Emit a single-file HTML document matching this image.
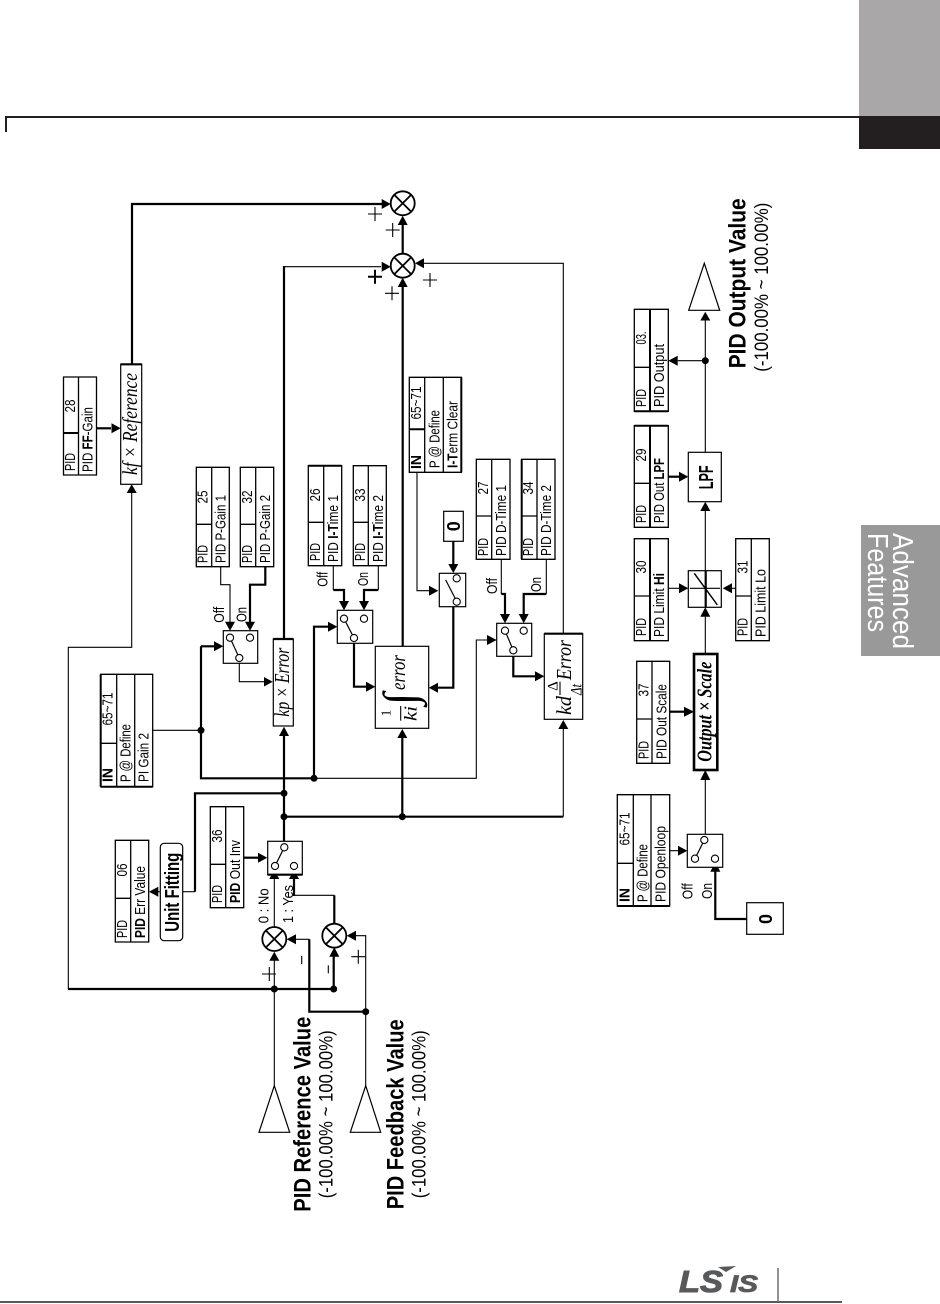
<!DOCTYPE html>
<html><head><meta charset="utf-8"><style>
html,body{margin:0;padding:0;background:#fff}
svg{display:block}
.n{fill:none;stroke:#000;stroke-width:1.1}
.k{fill:none;stroke:#000;stroke-width:2.2}
.b{fill:#fff;stroke:#000;stroke-width:1.2}
.tb{fill:none;stroke:#000;stroke-width:1.3}
.c{fill:#fff;stroke:#000;stroke-width:1.1}
.s{fill:#fff;stroke:#000;stroke-width:1.8}
text{font-family:"Liberation Sans",sans-serif;fill:#000}
.t{font-size:15px}
.m{text-anchor:middle}
.f{font-family:"Liberation Serif",serif;font-style:italic;font-size:21px}
.h{font-size:24px;font-weight:bold}
.r{font-size:19px}
</style></head><body>
<svg width="940" height="1304" viewBox="0 0 940 1304" xmlns="http://www.w3.org/2000/svg">
<!-- page furniture -->
<rect x="859" y="0" width="81" height="116" fill="#a9a7a7"/>
<rect x="859" y="116" width="81" height="33" fill="#231f20"/>
<path d="M6 132V117H859" fill="none" stroke="#231f20" stroke-width="2"/>
<rect x="861" y="525" width="79" height="131" fill="#999"/>
<text transform="translate(893,533) rotate(90)" font-size="29" style="fill:#fff" textLength="116" lengthAdjust="spacingAndGlyphs">Advanced</text>
<text transform="translate(868,533) rotate(90)" font-size="29" style="fill:#fff" textLength="99" lengthAdjust="spacingAndGlyphs">Features</text>
<path d="M0 1302H842" stroke="#58595b" stroke-width="2"/>
<path d="M778 1268V1302" stroke="#6d6e70" stroke-width="1.5"/>
<text x="679" y="1292" font-size="31" font-weight="bold" font-style="italic" style="fill:#58595b;stroke:#58595b;stroke-width:1" textLength="44" lengthAdjust="spacingAndGlyphs">LS</text>
<text x="730" y="1292" font-size="24" font-weight="bold" font-style="italic" style="fill:#58595b;stroke:#58595b;stroke-width:.8" textLength="28" lengthAdjust="spacingAndGlyphs">IS</text>
<polygon points="718,1267 736,1266 726,1272" fill="#58595b"/>

<!-- thin wires -->
<g class="n">
<path d="M68.3 989V647.3H131.7V493"/>
<path d="M274.3 1085.7V960"/>
<path d="M365.7 1085.7V935.7H356"/>
<path d="M309.3 939.3H296"/>
<path d="M274.3 927V879"/>
<path d="M334.3 895.3H294"/>
<path d="M284 266.7H381"/>
<path d="M152.7 730.3H201"/>
<path d="M314 778.3H476.3V640H487"/>
<path d="M220.7 566.7V584.7H230V622"/>
<path d="M239.3 662V681.7H264"/>
<path d="M333.3 565.7V590"/>
<path d="M378.3 565.7V590"/>
<path d="M417 472.3V590.7H429"/>
<path d="M501.3 559.3V594"/>
<path d="M546.3 559.3V594"/>
<path d="M563.3 633.7V263.3H424"/>
<path d="M563.3 816.7V729"/>
<path d="M182.7 891.7H195"/>
<path d="M160 891.7H158"/>
<path d="M705.3 320V452.3"/>
<path d="M705.3 360.7H677.7"/>
<path d="M705.3 511V570.7"/>
<path d="M705.3 616.7V654"/>
<path d="M705.3 780V834"/>
<path d="M669.7 850.7H678"/>
<path d="M668.3 588.3H679"/>
<path d="M732 588.3H735.7"/>
</g>
<!-- thick wires -->
<g class="k">
<path d="M132 364V204H382"/>
<path d="M284 638V266"/>
<path d="M284 841V736"/>
<path d="M68 989H333.7V956"/>
<path d="M309.3 939.3V1011.7H365.7"/>
<path d="M334.3 923.7V895.3"/>
<path d="M294 896V879"/>
<path d="M284 793.3H195V891.7"/>
<path d="M284 816.7H563.3"/>
<path d="M402.3 816.7V738"/>
<path d="M201 646.3H214"/>
<path d="M201 646.3V778.3H314"/>
<path d="M314 778.3V626.7H328"/>
<path d="M265.3 566.7V584.7H250V622"/>
<path d="M333.3 590H344V601"/>
<path d="M378.3 590H364V601"/>
<path d="M354 642V686.7H366"/>
<path d="M402.7 646V287"/>
<path d="M402.7 253V225"/>
<path d="M438 687.7H453.3V606"/>
<path d="M453.3 541V564"/>
<path d="M501.3 594H505V614"/>
<path d="M546.3 594H523.7V614"/>
<path d="M513.3 654V676.3H535"/>
<path d="M96.7 428.3H111"/>
<path d="M243.7 857.7H258"/>
<path d="M668.3 476.7H679"/>
<path d="M669.7 711.7H684"/>
<path d="M715.3 871V919H746.7"/>
</g>
<!-- arrowheads -->
<g fill="#000">
<polygon points="390.7,204 381.7,199 381.7,209"/>
<polygon points="390.7,266.7 381.7,261.7 381.7,271.7"/>
<polygon points="415,263.3 424,258.3 424,268.3"/>
<polygon points="402.7,215.7 397.7,225 407.7,225"/>
<polygon points="402.7,277.7 397.7,287 407.7,287"/>
<polygon points="131.7,484.3 126.7,493 136.7,493"/>
<polygon points="120.7,428.3 111.5,423.3 111.5,433.3"/>
<polygon points="274.3,951.7 269.3,960.7 279.3,960.7"/>
<polygon points="334.3,947.3 329.3,956.7 339.3,956.7"/>
<polygon points="286.7,939.3 296,934.3 296,944.3"/>
<polygon points="346.7,935.7 356,930.7 356,940.7"/>
<polygon points="274.3,870 269.3,879 279.3,879"/>
<polygon points="294,870 289,879 299,879"/>
<polygon points="267.3,857.7 258,852.7 258,862.7"/>
<polygon points="149,891.7 158.3,886.7 158.3,896.7"/>
<polygon points="284,726.7 279,736 289,736"/>
<polygon points="402.3,729 397.3,738 407.3,738"/>
<polygon points="563.3,720 558.3,729 568.3,729"/>
<polygon points="223.3,646.3 214,641.3 214,651.3"/>
<polygon points="337.3,626.7 328,621.7 328,631.7"/>
<polygon points="496.7,640 487,635 487,645"/>
<polygon points="230,630.7 225,621.7 235,621.7"/>
<polygon points="250,630.7 245,621.7 255,621.7"/>
<polygon points="344,610.3 339,601 349,601"/>
<polygon points="364,610.3 359,601 369,601"/>
<polygon points="505,623.3 500,614 510,614"/>
<polygon points="523.7,623.3 518.7,614 528.7,614"/>
<polygon points="272.7,681.7 264,677 264,686.5"/>
<polygon points="375.3,686.7 366,681.7 366,691.7"/>
<polygon points="428.7,687.7 438,682.7 438,692.7"/>
<polygon points="544.3,676.3 535,671.3 535,681.3"/>
<polygon points="438.3,590.7 429,585.7 429,595.7"/>
<polygon points="453.3,573 448.3,564 458.3,564"/>
<polygon points="705.3,311.7 700.3,320.5 710.3,320.5"/>
<polygon points="668.3,360.7 677.7,355.7 677.7,365.7"/>
<polygon points="688.3,476.7 679,471.7 679,481.7"/>
<polygon points="705.3,501.7 700.3,511 710.3,511"/>
<polygon points="688.3,588.3 679,583.3 679,593.3"/>
<polygon points="722.7,588.3 732,583.3 732,593.3"/>
<polygon points="705.3,607.3 700.3,616.7 710.3,616.7"/>
<polygon points="694,711.7 684,706.7 684,716.7"/>
<polygon points="705.3,770 700.3,780 710.3,780"/>
<polygon points="687.3,850.7 678,845.7 678,855.7"/>
<polygon points="715.3,861.7 710.3,871.7 720.3,871.7"/>
<circle cx="274.3" cy="989" r="3.5"/><circle cx="333.7" cy="989" r="3.5"/><circle cx="365.7" cy="1011.7" r="3.5"/>
<circle cx="284" cy="816.7" r="3.5"/><circle cx="284" cy="793.3" r="3.5"/><circle cx="402.3" cy="816.7" r="3.5"/>
<circle cx="201" cy="730.3" r="3.5"/><circle cx="314" cy="778.3" r="3.5"/><circle cx="705.3" cy="360.7" r="3.5"/>
</g>
<!-- summing junctions -->
<g class="s">
<circle cx="402.7" cy="203.3" r="12"/><path d="M394.2 194.8L411.2 211.8M411.2 194.8L394.2 211.8"/>
<circle cx="402.7" cy="265.7" r="12"/><path d="M394.2 257.2L411.2 274.2M411.2 257.2L394.2 274.2"/>
<circle cx="274.3" cy="939" r="12"/><path d="M265.8 930.5L282.8 947.5M282.8 930.5L265.8 947.5"/>
<circle cx="334.3" cy="935.7" r="12"/><path d="M325.8 927.2L342.8 944.2M342.8 927.2L325.8 944.2"/>
</g>
<!-- plus / minus -->
<g class="n">
<path d="M368 214H382M375 207V221"/>
<path d="M385.7 230H399.7M392.7 223V237"/>
<path d="M385 293.3H399M392 286.3V300.3"/>
<path d="M423 280H437M430 273V287"/>
<path d="M262 974H276M269.3 967V981"/>
<path d="M351.3 956.7H365.3M358.3 949.7V963.7"/>
<path d="M301.7 956V964"/>
<path d="M328.3 965.3V973.3"/>
</g>
<path d="M368 276.7H382M375 269.7V283.7" fill="none" stroke="#000" stroke-width="2"/>
<!-- triangles -->
<g class="b">
<polygon points="274.3,1085.7 259,1132.3 289.7,1132.3"/>
<polygon points="365.7,1085.7 350.3,1132.3 380.7,1132.3"/>
<polygon points="704.3,263.3 688.7,310.3 719.7,310.3"/>
</g>
<!-- blocks -->
<g class="b">
<rect x="120.7" y="364.3" width="21" height="120"/>
<rect x="273.3" y="639" width="20" height="87"/>
<rect x="375.3" y="646.3" width="53.4" height="82"/>
<rect x="544.3" y="633.7" width="38.4" height="85.6"/>
<rect x="688.3" y="452.3" width="33" height="49.4"/>
<rect x="688.3" y="570.7" width="33" height="36.6"/>
<rect x="443.7" y="511.3" width="19.6" height="30"/>
<rect x="746.7" y="902.7" width="36.6" height="31.6"/>
<rect x="160.3" y="843.3" width="22.4" height="97.4" rx="4"/>
<rect x="694" y="654" width="23.3" height="116" style="stroke-width:2.6"/>
<rect x="223.3" y="630.7" width="34.4" height="32.6"/>
<rect x="337.3" y="610.3" width="35.4" height="33"/>
<rect x="439.3" y="573.3" width="26.4" height="33.4"/>
<rect x="496.7" y="623.3" width="35" height="33"/>
<rect x="267.7" y="841.3" width="34.6" height="33.4"/>
<rect x="687.3" y="834.3" width="35.4" height="33"/>
</g>
<!-- thick block edges -->
<path d="M120.7 364.3H141.7M273.3 639H293.3M544.3 633.7H582.7M267.7 874.7H302.3" stroke="#000" stroke-width="2.2"/>
<!-- limiter glyph -->
<path d="M690 588.3H720" class="n"/>
<path d="M705.7 571V607" class="k"/>
<path d="M694.3 573.3L696.7 576.7L715 601.7L717.3 605" class="n" style="stroke-width:1.4"/>
<!-- switch contacts -->
<g class="n" style="stroke-width:1.2">
<path d="M230 637.7L239.3 658"/><path d="M344 618.7L354 638"/>
<path d="M445.7 580L456 600"/><path d="M505 630.7L513.3 650.3"/>
<path d="M275 866L284.3 847.3"/><path d="M695 858.7L704.3 840"/>
</g>
<g class="c">
<circle cx="230" cy="637.7" r="3.6"/><circle cx="250" cy="637.7" r="3.6"/><circle cx="239.3" cy="658" r="3.6"/>
<circle cx="344" cy="618.7" r="3.6"/><circle cx="364" cy="618.7" r="3.6"/><circle cx="354" cy="638" r="3.6"/>
<circle cx="456.7" cy="578.3" r="3.6"/><circle cx="456.7" cy="601.7" r="3.6"/>
<circle cx="505" cy="630.7" r="3.6"/><circle cx="523.7" cy="630.7" r="3.6"/><circle cx="513.3" cy="650.3" r="3.6"/>
<circle cx="275" cy="866" r="3.6"/><circle cx="294" cy="866" r="3.6"/><circle cx="284.3" cy="847.3" r="3.6"/>
<circle cx="695" cy="858.7" r="3.6"/><circle cx="715" cy="858.7" r="3.6"/><circle cx="704.3" cy="840" r="3.6"/>
</g>
<!-- parameter tables -->
<g class="tb">
<path d="M63.5 377H96.5V475H63.5ZM78.5 377V475M63.5 433H78.5"/>
<path d="M196.3 467.3H229.3V566.7H196.3ZM211.7 467.3V566.7M196.3 524.3H211.7"/>
<path d="M240.3 467.3H273.7V566.7H240.3ZM255.7 467.3V566.7M240.3 524.3H255.7"/>
<path d="M308.3 465.7H341.7V565.7H308.3ZM323.7 465.7V565.7M308.3 522.3H323.7"/>
<path d="M353.3 465.7H386.3V565.7H353.3ZM368.3 465.7V565.7M353.3 522.3H368.3"/>
<path d="M409.3 377.3H461.3V472.3H409.3ZM424.7 377.3V472.3M443.3 377.3V472.3M409.3 429.3H424.7"/>
<path d="M476.3 459.3H510V559.3H476.3ZM491.7 459.3V559.3M476.3 516H491.7"/>
<path d="M521.7 459.3H555V559.3H521.7ZM537 459.3V559.3M521.7 516H537"/>
<path d="M100.7 674.3H152.7V786.7H100.7ZM116.7 674.3V786.7M134.7 674.3V786.7M100.7 743.3H116.7"/>
<path d="M115.3 840.3H148.7V942H115.3ZM130.7 840.3V942M115.3 898.3H130.7"/>
<path d="M210.3 806.7H243.7V907.7H210.3ZM225.7 806.7V907.7M210.3 864.3H225.7"/>
<path d="M634.3 309.3H668.3V411.3H634.3ZM650 309.3V411.3M634.3 367.3H650"/>
<path d="M634.3 425.7H668.3V527.3H634.3ZM650 425.7V527.3M634.3 483.3H650"/>
<path d="M634.3 538.7H668.3V640.7H634.3ZM650 538.7V640.7M634.3 596H650"/>
<path d="M735.7 538.7H769.3V640.7H735.7ZM751.3 538.7V640.7M735.7 596H751.3"/>
<path d="M636.7 661.3H669.7V763.3H636.7ZM652 661.3V763.3M636.7 719H652"/>
<path d="M617.3 794.7H669.7V906H617.3ZM633.3 794.7V906M651 794.7V906M617.3 863.3H633.3"/>
</g>
<!-- heavier table edges -->
<path d="M63.5 433H78.5M308.3 465.7H341.7M409.3 429.3H424.7M461.3 377.3V472.3M100.7 674.3V786.7M100.7 786.7H152.7M617.3 906H669.7M634.3 425.7H668.3M634.3 411.3H668.3M521.7 459.3V559.3M650 309.3V411.3M650 425.7V527.3M650 538.7V640.7" stroke="#000" stroke-width="2" fill="none"/>
<!-- table text -->
<g>
<text class="t" transform="translate(75,471) rotate(-90)" textLength="18" lengthAdjust="spacingAndGlyphs">PID</text>
<text class="t m" transform="translate(75,406) rotate(-90)" textLength="13" lengthAdjust="spacingAndGlyphs">28</text>
<text class="t" transform="translate(92.7,472) rotate(-90)" textLength="65" lengthAdjust="spacingAndGlyphs">PID <tspan font-weight="bold">FF</tspan>-Gain</text>

<text class="t" transform="translate(207.5,563) rotate(-90)" textLength="18" lengthAdjust="spacingAndGlyphs">PID</text>
<text class="t m" transform="translate(207.5,497) rotate(-90)" textLength="13" lengthAdjust="spacingAndGlyphs">25</text>
<text class="t" transform="translate(225.5,563) rotate(-90)" textLength="68" lengthAdjust="spacingAndGlyphs">PID P-Gain 1</text>

<text class="t" transform="translate(252,563) rotate(-90)" textLength="18" lengthAdjust="spacingAndGlyphs">PID</text>
<text class="t m" transform="translate(252,497) rotate(-90)" textLength="13" lengthAdjust="spacingAndGlyphs">32</text>
<text class="t" transform="translate(270,563) rotate(-90)" textLength="68" lengthAdjust="spacingAndGlyphs">PID P-Gain 2</text>

<text class="t" transform="translate(320,561) rotate(-90)" textLength="18" lengthAdjust="spacingAndGlyphs">PID</text>
<text class="t m" transform="translate(320,495) rotate(-90)" textLength="13" lengthAdjust="spacingAndGlyphs">26</text>
<text class="t" transform="translate(338,562) rotate(-90)" textLength="67" lengthAdjust="spacingAndGlyphs">PID <tspan font-weight="bold">I-T</tspan>ime 1</text>

<text class="t" transform="translate(365,561) rotate(-90)" textLength="18" lengthAdjust="spacingAndGlyphs">PID</text>
<text class="t m" transform="translate(365,495) rotate(-90)" textLength="13" lengthAdjust="spacingAndGlyphs">33</text>
<text class="t" transform="translate(383,562) rotate(-90)" textLength="67" lengthAdjust="spacingAndGlyphs">PID <tspan font-weight="bold">I-T</tspan>ime 2</text>

<text class="t" transform="translate(421,469) rotate(-90)" font-weight="bold" textLength="14" lengthAdjust="spacingAndGlyphs">IN</text>
<text class="t m" transform="translate(421,403) rotate(-90)" textLength="33" lengthAdjust="spacingAndGlyphs">65~71</text>
<text class="t" transform="translate(439.5,468) rotate(-90)" textLength="58" lengthAdjust="spacingAndGlyphs">P @ Define</text>
<text class="t" transform="translate(457.5,468) rotate(-90)" textLength="67" lengthAdjust="spacingAndGlyphs"><tspan font-weight="bold">I-T</tspan>erm Clear</text>

<text class="t" transform="translate(488,556) rotate(-90)" textLength="18" lengthAdjust="spacingAndGlyphs">PID</text>
<text class="t m" transform="translate(488,488) rotate(-90)" textLength="13" lengthAdjust="spacingAndGlyphs">27</text>
<text class="t" transform="translate(506,556) rotate(-90)" textLength="71" lengthAdjust="spacingAndGlyphs">PID D-Time 1</text>

<text class="t" transform="translate(533,556) rotate(-90)" textLength="18" lengthAdjust="spacingAndGlyphs">PID</text>
<text class="t m" transform="translate(533,488) rotate(-90)" textLength="13" lengthAdjust="spacingAndGlyphs">34</text>
<text class="t" transform="translate(551,556) rotate(-90)" textLength="71" lengthAdjust="spacingAndGlyphs">PID D-Time 2</text>

<text class="t" transform="translate(112.5,782) rotate(-90)" font-weight="bold" textLength="14" lengthAdjust="spacingAndGlyphs">IN</text>
<text class="t m" transform="translate(112.5,709) rotate(-90)" textLength="33" lengthAdjust="spacingAndGlyphs">65~71</text>
<text class="t" transform="translate(130.5,782) rotate(-90)" textLength="58" lengthAdjust="spacingAndGlyphs">P @ Define</text>
<text class="t" transform="translate(148.5,782) rotate(-90)" textLength="49" lengthAdjust="spacingAndGlyphs">PI Gain 2</text>

<text class="t" transform="translate(127,938) rotate(-90)" textLength="18" lengthAdjust="spacingAndGlyphs">PID</text>
<text class="t m" transform="translate(127,870) rotate(-90)" textLength="13" lengthAdjust="spacingAndGlyphs">06</text>
<text class="t" transform="translate(145,938) rotate(-90)" textLength="72" lengthAdjust="spacingAndGlyphs"><tspan font-weight="bold">PID</tspan> Err Value</text>

<text class="t" transform="translate(222,903) rotate(-90)" textLength="18" lengthAdjust="spacingAndGlyphs">PID</text>
<text class="t m" transform="translate(222,836) rotate(-90)" textLength="13" lengthAdjust="spacingAndGlyphs">36</text>
<text class="t" transform="translate(240,903) rotate(-90)" textLength="63" lengthAdjust="spacingAndGlyphs"><tspan font-weight="bold">PID</tspan> Out Inv</text>

<text class="t" transform="translate(646,407) rotate(-90)" textLength="18" lengthAdjust="spacingAndGlyphs">PID</text>
<text class="t m" transform="translate(646,338) rotate(-90)" textLength="13" lengthAdjust="spacingAndGlyphs">03.</text>
<text class="t" transform="translate(664,407) rotate(-90)" textLength="63" lengthAdjust="spacingAndGlyphs">PID Output</text>

<text class="t" transform="translate(646,523) rotate(-90)" textLength="18" lengthAdjust="spacingAndGlyphs">PID</text>
<text class="t m" transform="translate(646,455) rotate(-90)" textLength="13" lengthAdjust="spacingAndGlyphs">29</text>
<text class="t" transform="translate(664,523) rotate(-90)" textLength="65" lengthAdjust="spacingAndGlyphs">PID Out <tspan font-weight="bold">LPF</tspan></text>

<text class="t" transform="translate(646,636) rotate(-90)" textLength="18" lengthAdjust="spacingAndGlyphs">PID</text>
<text class="t m" transform="translate(646,567) rotate(-90)" textLength="13" lengthAdjust="spacingAndGlyphs">30</text>
<text class="t" transform="translate(664,637) rotate(-90)" textLength="64" lengthAdjust="spacingAndGlyphs">PID Limit <tspan font-weight="bold">Hi</tspan></text>

<text class="t" transform="translate(747.5,636) rotate(-90)" textLength="18" lengthAdjust="spacingAndGlyphs">PID</text>
<text class="t m" transform="translate(747.5,567) rotate(-90)" textLength="13" lengthAdjust="spacingAndGlyphs">31</text>
<text class="t" transform="translate(765.5,637) rotate(-90)" textLength="68" lengthAdjust="spacingAndGlyphs">PID Limit Lo</text>

<text class="t" transform="translate(648.5,759) rotate(-90)" textLength="18" lengthAdjust="spacingAndGlyphs">PID</text>
<text class="t m" transform="translate(648.5,690) rotate(-90)" textLength="13" lengthAdjust="spacingAndGlyphs">37</text>
<text class="t" transform="translate(666.5,759) rotate(-90)" textLength="75" lengthAdjust="spacingAndGlyphs">PID Out Scale</text>

<text class="t" transform="translate(629.5,902) rotate(-90)" font-weight="bold" textLength="14" lengthAdjust="spacingAndGlyphs">IN</text>
<text class="t m" transform="translate(629.5,829) rotate(-90)" textLength="33" lengthAdjust="spacingAndGlyphs">65~71</text>
<text class="t" transform="translate(647.5,902) rotate(-90)" textLength="58" lengthAdjust="spacingAndGlyphs">P @ Define</text>
<text class="t" transform="translate(665.5,902) rotate(-90)" textLength="76" lengthAdjust="spacingAndGlyphs">PID Openloop</text>
</g>
<!-- switch labels -->
<text class="t" transform="translate(224,622.7) rotate(-90)" textLength="16" lengthAdjust="spacingAndGlyphs">Off</text>
<text class="t" transform="translate(246.7,622) rotate(-90)" textLength="15" lengthAdjust="spacingAndGlyphs">On</text>
<text class="t" transform="translate(327.3,586.7) rotate(-90)" textLength="15" lengthAdjust="spacingAndGlyphs">Off</text>
<text class="t" transform="translate(368,586) rotate(-90)" textLength="14" lengthAdjust="spacingAndGlyphs">On</text>
<text class="t" transform="translate(497,594) rotate(-90)" textLength="16" lengthAdjust="spacingAndGlyphs">Off</text>
<text class="t" transform="translate(541,592) rotate(-90)" textLength="15" lengthAdjust="spacingAndGlyphs">On</text>
<text class="t" transform="translate(692.7,899.3) rotate(-90)" textLength="16" lengthAdjust="spacingAndGlyphs">Off</text>
<text class="t" transform="translate(712,899) rotate(-90)" textLength="16" lengthAdjust="spacingAndGlyphs">On</text>
<text class="t" transform="translate(268.3,923.3) rotate(-90)" textLength="35" lengthAdjust="spacingAndGlyphs">0 : No</text>
<text class="t" transform="translate(293,923) rotate(-90)" textLength="38" lengthAdjust="spacingAndGlyphs">1 : Yes</text>
<!-- block text -->
<text class="f" transform="translate(137,475) rotate(-90)" textLength="102" lengthAdjust="spacingAndGlyphs">kf × Reference</text>
<text class="f" transform="translate(289,716.7) rotate(-90)" textLength="69" lengthAdjust="spacingAndGlyphs">kp × Error</text>
<text class="f" transform="translate(405,690) rotate(-90)" textLength="35" lengthAdjust="spacingAndGlyphs">error</text>
<text transform="translate(390.5,713) rotate(-90)" text-anchor="middle" font-size="14" style="font-family:'Liberation Serif',serif">1</text>
<path d="M400.7 706V720.7" class="n"/>
<text class="f" transform="translate(416.7,721) rotate(-90)" style="font-size:18px" textLength="15" lengthAdjust="spacingAndGlyphs">ki</text>
<text transform="translate(415,699) rotate(-90)" text-anchor="middle" font-size="46" style="font-family:'Liberation Serif','DejaVu Serif',serif">∫</text>
<text transform="translate(557.3,686) rotate(-90)" text-anchor="middle" font-size="15" style="font-family:'Liberation Serif',serif">Δ</text>
<path d="M560 681.7V695" class="n"/>
<text class="f" transform="translate(571,715) rotate(-90)" textLength="19" lengthAdjust="spacingAndGlyphs">kd</text>
<text class="f" transform="translate(581.7,695) rotate(-90)" style="font-size:16px" textLength="11" lengthAdjust="spacingAndGlyphs">Δt</text>
<text class="f" transform="translate(571,680) rotate(-90)" textLength="40" lengthAdjust="spacingAndGlyphs">Error</text>
<text class="f" transform="translate(711.7,761.7) rotate(-90)" font-weight="bold" textLength="100" lengthAdjust="spacingAndGlyphs">Output × Scale</text>
<text transform="translate(179,931.7) rotate(-90)" font-size="20" font-weight="bold" textLength="79" lengthAdjust="spacingAndGlyphs">Unit Fitting</text>
<text transform="translate(713,489.3) rotate(-90)" font-size="20" font-weight="bold" textLength="24" lengthAdjust="spacingAndGlyphs">LPF</text>
<text transform="translate(460,526.3) rotate(-90)" text-anchor="middle" font-size="18" font-weight="bold">0</text>
<text transform="translate(772,919) rotate(-90)" text-anchor="middle" font-size="18" font-weight="bold">0</text>
<!-- big labels -->
<text class="h" transform="translate(745.7,368.3) rotate(-90)" textLength="170" lengthAdjust="spacingAndGlyphs">PID Output Value</text>
<text class="r" transform="translate(768,371.7) rotate(-90)" textLength="169" lengthAdjust="spacingAndGlyphs">(-100.00% ~ 100.00%)</text>
<text class="h" transform="translate(310.7,1211.7) rotate(-90)" textLength="195" lengthAdjust="spacingAndGlyphs">PID Reference Value</text>
<text class="r" transform="translate(332.7,1198.3) rotate(-90)" textLength="168" lengthAdjust="spacingAndGlyphs">(-100.00% ~ 100.00%)</text>
<text class="h" transform="translate(403.3,1209.3) rotate(-90)" textLength="190" lengthAdjust="spacingAndGlyphs">PID Feedback Value</text>
<text class="r" transform="translate(425.7,1198.3) rotate(-90)" textLength="168" lengthAdjust="spacingAndGlyphs">(-100.00% ~ 100.00%)</text>
</svg>
</body></html>
